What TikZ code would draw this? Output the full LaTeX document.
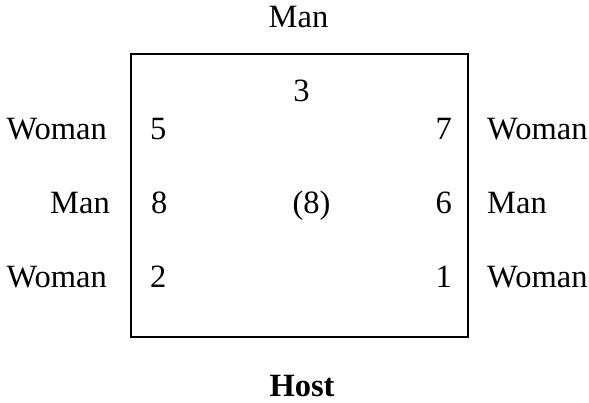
\documentclass[tikz,border=0pt]{standalone}
\usepackage{fontspec}
\setmainfont{Liberation Serif}
\begin{document}
\begin{tikzpicture}[x=1pt,y=-1pt,
  lbl/.style={inner sep=0pt,text depth=0pt,font=\fontsize{32.5}{38}\selectfont},
  boxline/.style={line width=2pt}]
\useasboundingbox (0,0) rectangle (589,402);
\draw[boxline] (131,54) rectangle (468,337);
\node[lbl,anchor=base] (topman) at (298.5,27) {Man};
\node[lbl,anchor=base] (n3) at (301.5,101) {3};
\node[lbl,anchor=base east] (wl1) at (107,139) {Woman};
\node[lbl,anchor=base west] (n5) at (150,139) {5};
\node[lbl,anchor=base east] (n7) at (452,139) {7};
\node[lbl,anchor=base west] (wr1) at (487,139) {Woman};
\node[lbl,anchor=base east] (ml) at (110,213) {Man};
\node[lbl,anchor=base west] (n8) at (151,213) {8};
\node[lbl,anchor=base] (c8) at (311.5,213) {(8)};
\node[lbl,anchor=base east] (n6) at (452,213) {6};
\node[lbl,anchor=base west] (mr) at (487,213) {Man};
\node[lbl,anchor=base east] (wl2) at (107,287) {Woman};
\node[lbl,anchor=base west] (n2) at (150,287) {2};
\node[lbl,anchor=base east] (n1) at (452,287) {1};
\node[lbl,anchor=base west] (wr2) at (487,287) {Woman};
\node[lbl,anchor=base,font=\fontsize{32.5}{38}\selectfont\bfseries] (host) at (302,396) {Host};
\end{tikzpicture}
\end{document}
